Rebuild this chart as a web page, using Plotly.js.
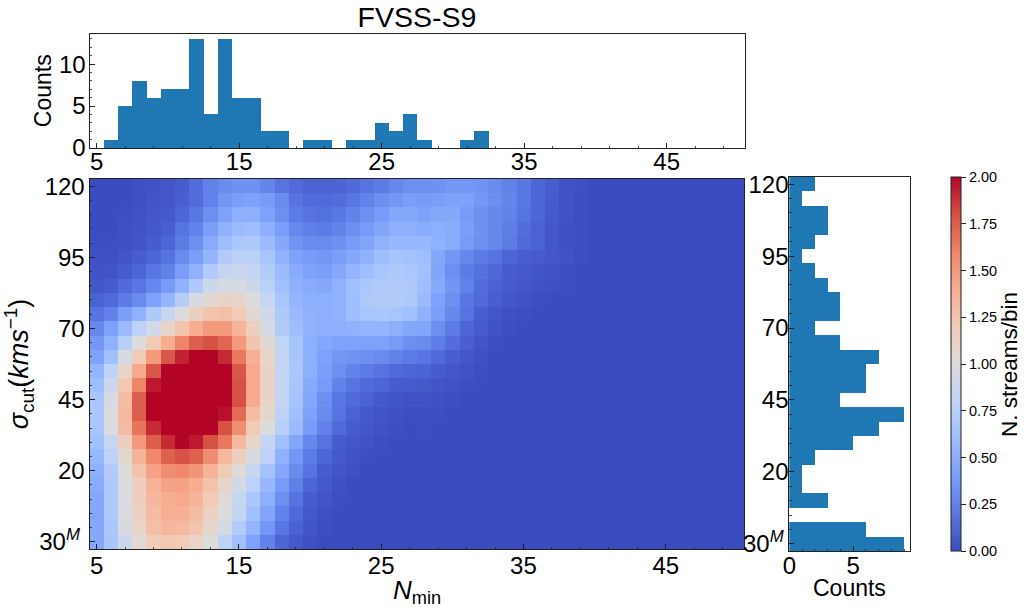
<!DOCTYPE html>
<html>
<head>
<meta charset="utf-8">
<script src="https://cdn.plot.ly/plotly-3.0.1.min.js"></script>
<style>html,body{margin:0;padding:0;background:#fff}</style>
</head>
<body>
<div id="chart" style="width:1027px;height:612px"></div>
<script>
const nMin = [5,6,7,8,9,10,11,12,13,14,15,16,17,18,19,20,21,22,23,24,25,26,27,28,29,30,31,32,33,34,35,36,37,38,39,40,41,42,43,44,45,46,47,48,49,50];
const sigmaBins = [120,115,110,105,100,95,90,85,80,75,70,65,60,55,50,45,40,35,30,25,20,15,10,5,0,-5];
const density = [
[0,0,0,.02,.03,.05,.08,.16,.25,.30,.33,.33,.27,.18,.14,.10,.10,.11,.14,.18,.22,.28,.32, .32,.33,.36,.36,.34,.30,.25,.20,.12,.08,.03,.02, 0,0,0,0,0,0,0,0,0,0,0],
[0,0,0,.02,.04,.05,.09,.15,.25,.35,.40,.42,.38,.30,.18,.14,.14,.15,.20,.26,.32,.36,.40, .38,.40,.42,.42,.36,.32,.27,.20,.12,.07,.03,.01, 0,0,0,0,0,0,0,0,0,0,0],
[0,0,.01,.03,.05,.06,.12,.20,.32,.42,.50,.50,.42,.32,.22,.18,.17,.20,.26,.32,.38,.45,.46, .42,.46,.46,.38,.32,.28,.25,.18,.12,.06,.03,.01, 0,0,0,0,0,0,0,0,0,0,0],
[0,0,.02,.03,.06,.09,.18,.25,.40,.52,.58,.60,.50,.40,.28,.24,.22,.26,.32,.38,.44,.50,.50, .48,.50,.48,.40,.33,.28,.23,.16,.10,.05,.02,.01, 0,0,0,0,0,0,0,0,0,0,0],
[.01,.01,.02,.04,.08,.12,.22,.32,.48,.60,.68,.70,.58,.46,.34,.30,.30,.33,.38,.44,.52,.56,.56, .56,.52,.48,.38,.32,.28,.22,.14,.10,.05,.02,.01, 0,0,0,0,0,0,0,0,0,0,0],
[.02,.02,.04,.08,.12,.18,.30,.40,.55,.72,.76,.76,.66,.52,.42,.38,.36,.40,.46,.52,.60,.65,.64, .60,.46,.36,.28,.22,.18,.12,.09,.07,.05,.03,.01, 0,0,0,0,0,0,0,0,0,0,0],
[.03,.04,.08,.12,.20,.25,.40,.52,.72,.82,.86,.82,.72,.58,.48,.42,.40,.46,.54,.60,.66,.70,.68, .62,.44,.32,.22,.17,.13,.08,.06,.04,.03,.01,0, 0,0,0,0,0,0,0,0,0,0,0],
[.05,.08,.14,.20,.28,.38,.52,.70,.88,.94,.96,.88,.76,.62,.52,.48,.46,.52,.62,.68,.71,.71,.70, .60,.47,.35,.25,.15,.10,.07,.05,.03,.02,.01,0, 0,0,0,0,0,0,0,0,0,0,0],
[.10,.14,.22,.30,.42,.55,.74,.95,1.05,1.12,1.10,1.00,.84,.66,.55,.50,.50,.52,.60,.70,.72,.72,.70, .58,.42,.32,.20,.14,.09,.05,.03,.01,0,0,0, 0,0,0,0,0,0,0,0,0,0,0],
[.18,.25,.40,.52,.70,.85,1.0,1.15,1.25,1.28,1.2,1.05,.9,.70,.58,.52,.50,.52,.6,.66,.68,.66,.62, .52,.40,.28,.18,.09,.05,.02,.01,0,0,0,0, 0,0,0,0,0,0,0,0,0,0,0],
[.28,.42,.58,.78,.92,1.1,1.25,1.4,1.5,1.5,1.35,1.15,.95,.72,.6,.52,.5,.5,.52,.55,.55,.5,.45, .44,.32,.22,.12,.07,.03,.01,0,0,0,0,0, 0,0,0,0,0,0,0,0,0,0,0],
[.36,.52,.75,1.0,1.2,1.4,1.6,1.75,1.8,1.72,1.5,1.25,1.05,.8,.65,.5,.45,.42,.42,.42,.42,.38,.32, .30,.23,.16,.09,.04,.01,0,0,0,0,0,0, 0,0,0,0,0,0,0,0,0,0,0],
[.42,.62,.95,1.2,1.5,1.78,1.92,2.1,2.1,1.9,1.65,1.38,1.1,.82,.66,.5,.42,.36,.34,.32,.3,.25,.22, .19,.14,.09,.05,.02,0,0,0,0,0,0,0, 0,0,0,0,0,0,0,0,0,0,0],
[.55,.78,1.1,1.42,1.78,2.1,2.15,2.2,2.2,2.1,1.78,1.42,1.12,.82,.68,.5,.4,.32,.26,.22,.18,.14,.12, .11,.08,.05,.03,.01,0,0,0,0,0,0,0, 0,0,0,0,0,0,0,0,0,0,0],
[.6,.88,1.22,1.6,1.95,2.1,2.2,2.3,2.3,2.15,1.8,1.42,1.12,.82,.66,.47,.38,.26,.18,.14,.12,.08,.07, .06,.04,.03,.01,0,0,0,0,0,0,0,0, 0,0,0,0,0,0,0,0,0,0,0],
[.66,.96,1.3,1.75,2.05,2.2,2.3,2.4,2.4,2.2,1.8,1.42,1.12,.82,.65,.45,.32,.2,.14,.1,.06,.04,.03, .03,.02,.01,0,0,0,0,0,0,0,0,0, 0,0,0,0,0,0,0,0,0,0,0],
[.68,1.0,1.32,1.75,2.05,2.2,2.3,2.3,2.2,1.97,1.7,1.3,1.08,.78,.62,.42,.3,.18,.1,.06,.04,.02,.01, .01,.01,0,0,0,0,0,0,0,0,0,0, 0,0,0,0,0,0,0,0,0,0,0],
[.66,.98,1.3,1.66,1.9,2.1,2.1,2.1,2.05,1.8,1.55,1.2,1.0,.75,.58,.38,.25,.14,.08,.05,.03,.01,0, .01,0,0,0,0,0,0,0,0,0,0,0, 0,0,0,0,0,0,0,0,0,0,0],
[.62,.84,1.15,1.5,1.75,1.9,2.0,1.95,1.8,1.65,1.32,1.1,.82,.62,.45,.28,.18,.08,.05,.03,.01,0,0, 0,0,0,0,0,0,0,0,0,0,0,0, 0,0,0,0,0,0,0,0,0,0,0],
[.56,.78,1.06,1.36,1.58,1.74,1.8,1.74,1.56,1.32,1.15,.96,.78,.52,.36,.22,.12,.06,.03,.01,0,0,0, 0,0,0,0,0,0,0,0,0,0,0,0, 0,0,0,0,0,0,0,0,0,0,0],
[.50,.72,1.0,1.25,1.45,1.55,1.58,1.52,1.36,1.2,1.02,.85,.64,.46,.3,.18,.08,.04,.02,0,0,0,0, 0,0,0,0,0,0,0,0,0,0,0,0, 0,0,0,0,0,0,0,0,0,0,0],
[.48,.70,.98,1.16,1.36,1.45,1.46,1.4,1.26,1.08,.92,.78,.56,.38,.24,.12,.06,.02,0,0,0,0,0, 0,0,0,0,0,0,0,0,0,0,0,0, 0,0,0,0,0,0,0,0,0,0,0],
[.46,.70,.97,1.16,1.33,1.4,1.42,1.35,1.2,1.04,.85,.68,.5,.32,.18,.08,.04,.01,0,0,0,0,0, 0,0,0,0,0,0,0,0,0,0,0,0, 0,0,0,0,0,0,0,0,0,0,0],
[.45,.70,.97,1.14,1.3,1.38,1.38,1.3,1.14,1.0,.82,.62,.44,.26,.14,.06,.02,0,0,0,0,0,0, 0,0,0,0,0,0,0,0,0,0,0,0, 0,0,0,0,0,0,0,0,0,0,0],
[.45,.68,.96,1.1,1.28,1.34,1.32,1.24,1.08,.94,.72,.54,.36,.2,.1,.04,.01,0,0,0,0,0,0, 0,0,0,0,0,0,0,0,0,0,0,0, 0,0,0,0,0,0,0,0,0,0,0],
[.46,.66,.88,1.04,1.18,1.22,1.2,1.1,1.0,.78,.62,.42,.25,.12,.06,.02,0,0,0,0,0,0,0, 0,0,0,0,0,0,0,0,0,0,0,0, 0,0,0,0,0,0,0,0,0,0,0]
];
const topCounts = [0,1,5,8,6,7,7,13,4,13,6,6,2,2,0,1,1,0,1,1,3,2,4,1,0,0,1,2];
const topBins = [5,6,7,8,9,10,11,12,13,14,15,16,17,18,19,20,21,22,23,24,25,26,27,28,29,30,31,32];
const sideCounts = [2,1,3,3,2,1,2,3,4,4,2,4,7,6,6,4,9,7,5,2,1,1,3,0,6,9];
const xTickVals = [5,15,25,35,45];
const sigmaTickVals = [-5,20,45,70,95,120];
const sigmaTickText = ['30<sup><i>M</i></sup>&#8201;','20','45','70','95','120'];
const colorbarTicks = [0,0.25,0.5,0.75,1,1.25,1.5,1.75,2];
const coolwarm = [[0,'#3b4cc0'],[0.1,'#5977e3'],[0.2,'#7b9ff9'],[0.3,'#9ebeff'],[0.4,'#c0d4f5'],[0.5,'#dddcdc'],[0.6,'#f2cbb7'],[0.7,'#f7ad90'],[0.8,'#ee8468'],[0.9,'#d65244'],[1,'#b40426']];

const W = 1027, H = 612;
const FONT = '"Liberation Sans", Arial, sans-serif';
const ax = (o) => Object.assign({
  showgrid:false, zeroline:false, showline:true, linecolor:'#222', linewidth:1, mirror:true,
  ticks:'inside', ticklen:5, tickwidth:1, tickcolor:'#222',
  tickfont:{family:FONT,size:24,color:'#000'}
}, o);
const minor = (d,t0) => ({ticks:'inside',ticklen:2.5,tickwidth:0.8,tickcolor:'#222',dtick:d,tick0:t0,showgrid:false});

const traces = [
  {type:'heatmap',x:nMin,y:sigmaBins,z:density,xaxis:'x',yaxis:'y',zmin:0,zmax:2,colorscale:coolwarm,zsmooth:false,
   colorbar:{orientation:'v',x:951/W,xanchor:'left',xref:'paper',xpad:0,ypad:0,thickness:10,thicknessmode:'pixels',
     len:374/H,lenmode:'fraction',y:1-551/H,yanchor:'bottom',outlinewidth:1,outlinecolor:'#222',
     tickvals:colorbarTicks,tickformat:'.2f',ticks:'outside',ticklen:5,tickwidth:1,tickcolor:'#222',
     tickfont:{family:FONT,size:14.5,color:'#000'}}},
  {type:'bar',x:topBins,y:topCounts,width:1,xaxis:'x2',yaxis:'y2',marker:{color:'#1f77b4',line:{width:0}}},
  {type:'bar',orientation:'h',x:sideCounts,y:sigmaBins,width:5,xaxis:'x3',yaxis:'y3',marker:{color:'#1f77b4',line:{width:0}}}
];

const layout = {
  width:W,height:H,margin:{l:0,r:0,t:0,b:0},paper_bgcolor:'#fff',plot_bgcolor:'#fff',showlegend:false,bargap:0,
  font:{family:FONT,color:'#000'},
  title:{text:'FVSS-S9',font:{family:FONT,size:28.5,color:'#000'},x:417/W,xref:'paper',xanchor:'center',y:1-17/H,yref:'container',yanchor:'middle'},
  xaxis:ax({domain:[89.5/W,744/W],range:[4.5,50.5],anchor:'y',tickvals:xTickVals,minor:minor(2,5),ticklabelstandoff:-5}),
  yaxis:ax({domain:[1-549/H,1-179/H],range:[-7.5,122.5],anchor:'x',tickvals:sigmaTickVals,ticktext:sigmaTickText,minor:minor(5,0),ticklabelstandoff:-1,
    title:{text:'<i>σ</i><sub>cut</sub>(<i>kms</i><sup>−1</sup>)',font:{family:FONT,size:27,color:'#000'},standoff:4}}),
  xaxis2:ax({domain:[89.5/W,745/W],range:[4.5,50.5],anchor:'y2',tickvals:xTickVals,minor:minor(2,5),ticklabelstandoff:-8}),
  yaxis2:ax({domain:[1-148/H,1-33.5/H],range:[0,13.65],anchor:'x2',tickvals:[0,5,10],minor:minor(1,0),ticklabelstandoff:-2,
    title:{text:'Counts',font:{family:FONT,size:23,color:'#000'},standoff:0}}),
  xaxis3:ax({domain:[789.3/W,910/W],range:[0,9.45],anchor:'y3',tickvals:[0,5],minor:minor(1,0),ticklabelstandoff:-7}),
  yaxis3:ax({domain:[1-551/H,1-177/H],range:[-7.5,122.5],anchor:'x3',tickvals:sigmaTickVals,ticktext:sigmaTickText,minor:minor(5,0),ticklabelstandoff:-5}),
  annotations:[
    {text:'N. streams/bin',xref:'paper',yref:'paper',x:1009/W,y:1-365/H,xanchor:'center',yanchor:'middle',textangle:-90,showarrow:false,font:{family:FONT,size:22.5,color:'#000'}},
    {text:'<i>N</i><sub>min</sub>',xref:'paper',yref:'paper',x:416.5/W,y:1-591/H,xanchor:'center',yanchor:'middle',showarrow:false,font:{family:FONT,size:26,color:'#000'}},
    {text:'Counts',xref:'paper',yref:'paper',x:849/W,y:1-588/H,xanchor:'center',yanchor:'middle',showarrow:false,font:{family:FONT,size:23,color:'#000'}}
  ]
};
Plotly.newPlot('chart',traces,layout,{displayModeBar:false,staticPlot:true});
</script>
</body>
</html>
